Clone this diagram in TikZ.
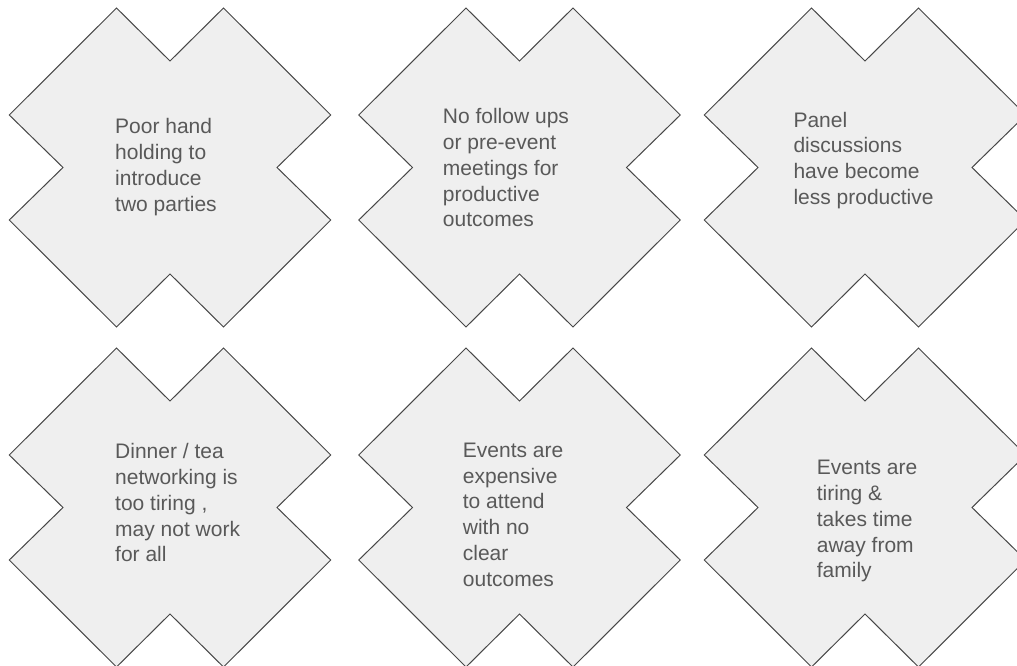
\documentclass[tikz,border=0pt]{standalone}
\usepackage{fontspec}
\setmainfont{Liberation Sans}
\definecolor{shapefill}{HTML}{EFEFEF}
\definecolor{shapeline}{HTML}{474747}
\definecolor{txt}{HTML}{595959}
\tikzset{
  xbox/.style={draw=shapeline, fill=shapefill, line width=1pt, line join=miter},
  label text/.style={anchor=north west, inner sep=0pt, align=left, text=txt,
    font=\fontsize{21}{25.8}\selectfont},
  xshape/.pic={\draw[xbox] (-53.5,-159.5) -- (0,-106.5) -- (53.5,-159.5) -- (160.75,-52.5) -- (107,0) -- (160.75,52.5) -- (53.5,159.5) -- (0,106.5) -- (-53.5,159.5) -- (-160.75,52.5) -- (-107,0) -- (-160.75,-52.5) -- cycle;}
}
\begin{document}
\begin{tikzpicture}[x=1pt,y=-1pt]
\useasboundingbox (0,0) rectangle (1017,666);
\clip (0,0) rectangle (1017,666);
\pic at (170,167.5) {xshape};
\pic at (519.5,167.5) {xshape};
\pic at (865,167.5) {xshape};
\pic at (170,507.5) {xshape};
\pic at (519.5,507.5) {xshape};
\pic at (865,507.5) {xshape};
\node[label text] (t1) at (115,118.3) {Poor hand\\holding to\\introduce\\two parties};
\node[label text] (t2) at (442.7,108.3) {No follow ups\\or pre-event\\meetings for\\productive\\outcomes};
\node[label text] (t3) at (793.3,111.7) {Panel\\discussions\\have become\\less productive};
\node[label text] (t4) at (115,443.3) {Dinner / tea\\networking is\\too tiring ,\\may not work\\for all};
\node[label text] (t5) at (462.7,442.7) {Events are\\expensive\\to attend\\with no\\clear\\outcomes};
\node[label text] (t6) at (816.7,460) {Events are\\tiring \&\\takes time\\away from\\family};
\end{tikzpicture}
\end{document}
